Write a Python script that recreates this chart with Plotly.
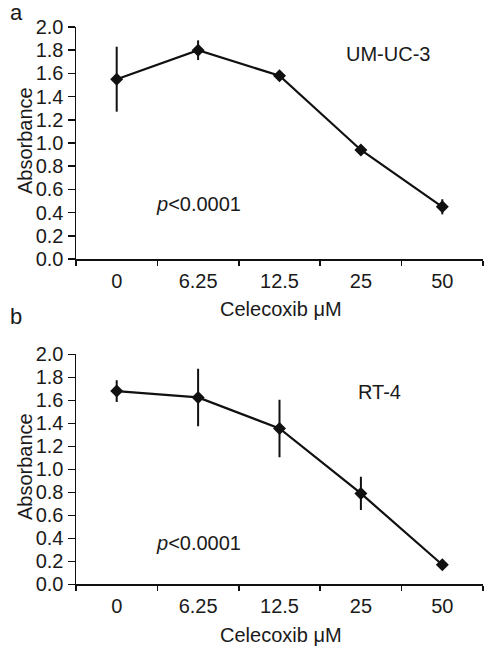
import plotly.graph_objects as go

categories = ["0", "6.25", "12.5", "25", "50"]
umuc3_values = [1.55, 1.80, 1.58, 0.94, 0.45]
umuc3_errors = [0.28, 0.085, 0.02, 0.04, 0.065]
rt4_values = [1.68, 1.625, 1.355, 0.79, 0.17]
rt4_errors = [0.095, 0.25, 0.25, 0.145, 0.02]
y_ticks = [0.0, 0.2, 0.4, 0.6, 0.8, 1.0, 1.2, 1.4, 1.6, 1.8, 2.0]

FONT = "Liberation Sans, Arial, sans-serif"
TXT = "#1a1a1a"
W, H = 490, 651
FS = 20

fig = go.Figure()

panels = [
    dict(vals=umuc3_values, errs=umuc3_errors, ydom=[1 - 259 / H, 1 - 27 / H]),
    dict(vals=rt4_values, errs=rt4_errors, ydom=[1 - 584.3 / H, 1 - 354.3 / H]),
]

xdom = [76 / W, 483 / W]

for i, p in enumerate(panels):
    sfx = "" if i == 0 else str(i + 1)
    fig.add_trace(go.Scatter(
        x=categories, y=p["vals"], xaxis="x" + sfx, yaxis="y" + sfx,
        mode="lines+markers",
        line=dict(color="#111", width=2.2),
        marker=dict(symbol="diamond", size=10, color="#111"),
        error_y=dict(type="data", array=p["errs"], visible=True,
                     color="#111", thickness=2, width=0),
        showlegend=False, hoverinfo="skip",
    ))
    fig.layout["xaxis" + sfx] = dict(
        domain=xdom, anchor="y" + sfx, type="category",
        range=[-0.5, 4.5], tickson="boundaries", automargin=False,
        showline=True, linecolor="#111", linewidth=1.5,
        ticks="outside", ticklen=5, tickwidth=1.5, tickcolor="#111",
        showgrid=False, zeroline=False,
        tickfont=dict(family=FONT, size=FS, color=TXT),
        ticklabelstandoff=3,
    )
    fig.layout["yaxis" + sfx] = dict(
        domain=p["ydom"], anchor="x" + sfx, automargin=False,
        range=[0, 2.0], tickvals=y_ticks, tickformat=".1f",
        showline=True, linecolor="#111", linewidth=1.5,
        ticks="outside", ticklen=7, tickwidth=1.5, tickcolor="#111",
        showgrid=False, zeroline=False,
        tickfont=dict(family=FONT, size=FS, color=TXT),
    )

annos = [
    # panel a
    dict(x=16, y=12, text="a", size=22),
    dict(x=388, y=54, text="UM-UC-3", size=FS),
    dict(x=198, y=204, text="<i>p</i>&lt;0.0001", size=FS),
    dict(x=281, y=309, text="Celecoxib μM", size=FS),
    dict(x=25, y=141, text="Absorbance", size=FS, angle=-90),
    # panel b
    dict(x=16, y=316, text="b", size=22),
    dict(x=379, y=392, text="RT-4", size=FS),
    dict(x=198, y=543, text="<i>p</i>&lt;0.0001", size=FS),
    dict(x=281, y=635, text="Celecoxib μM", size=FS),
    dict(x=25, y=467, text="Absorbance", size=FS, angle=-90),
]
for a in annos:
    fig.add_annotation(
        x=a["x"] / W, y=1 - a["y"] / H, xref="paper", yref="paper",
        text=a["text"], showarrow=False, xanchor="center", yanchor="middle",
        textangle=a.get("angle", 0),
        font=dict(family=FONT, size=a["size"], color=TXT),
    )

fig.update_layout(
    width=W, height=H,
    margin=dict(l=0, r=0, t=0, b=0, pad=0, autoexpand=False),
    paper_bgcolor="white", plot_bgcolor="white",
    hovermode=False,
)

fig.write_html(
    "out.html",
    config={"displayModeBar": False, "staticPlot": True},
    post_script="document.body.style.margin='0px';",
)
